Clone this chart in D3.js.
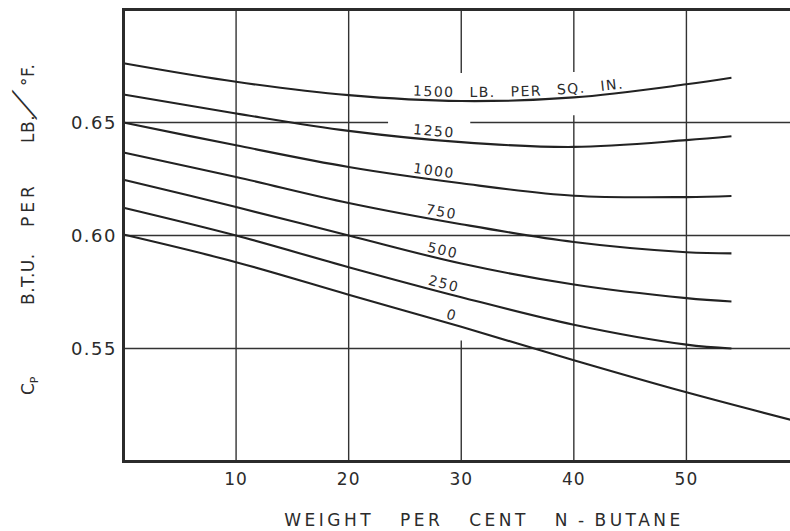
<!DOCTYPE html>
<html>
<head>
<meta charset="utf-8">
<script src="https://cdn.jsdelivr.net/npm/d3@7"></script>
<style>
    body { margin: 0; background: #fff; }
    text { font-family: "DejaVu Sans", sans-serif; fill: #2b2b2b; }
</style>
</head>
<body>
<div id="svgContainer"></div>
<script>
var width = 790,
    height = 531;

// weight per cent n-butane at which each curve was read
var butane = [0, 10, 20, 30, 40, 50, 54];
var butaneZero = [0, 10, 20, 30, 40, 50, 60];

// Cp, B.T.U. per lb. per deg F, one array per pressure (lb. per sq. in.)
var cp1500 = [0.6762, 0.668, 0.6621, 0.6595, 0.6611, 0.6669, 0.6698];
var cp1250 = [0.6624, 0.654, 0.6463, 0.6413, 0.6392, 0.6422, 0.6439];
var cp1000 = [0.650, 0.6399, 0.6303, 0.6231, 0.6176, 0.617, 0.6175];
var cp750 = [0.6367, 0.6259, 0.6144, 0.605, 0.5971, 0.5926, 0.5921];
var cp500 = [0.6247, 0.6126, 0.600, 0.5876, 0.5783, 0.5723, 0.5708];
var cp250 = [0.6123, 0.600, 0.586, 0.5727, 0.5605, 0.5517, 0.550];
var cp0 = [0.6004, 0.5882, 0.5738, 0.5596, 0.5448, 0.5306, 0.5175];

var curveLabels = ["1500 LB. PER SQ. IN.", "1250", "1000", "750", "500", "250", "0"];
var labelAt = [25.7, 25.7, 25.7, 26.8, 26.9, 27.0, 28.6];

var xTicks = [10, 20, 30, 40, 50];
var yTicks = [0.55, 0.60, 0.65];
var yTickLabels = ["0.55", "0.60", "0.65"];

// gaps left in the grid round the lettering
var xGridGaps = [{ at: 30, from: 0.5535, to: 0.6719 }, { at: 40, from: 0.6532, to: 0.6723 }];
var yGridGaps = [{ at: 0.65, from: 23.5, to: 30.8 }];

var series = [
    { xs: butane, ys: cp1500 },
    { xs: butane, ys: cp1250 },
    { xs: butane, ys: cp1000 },
    { xs: butane, ys: cp750 },
    { xs: butane, ys: cp500 },
    { xs: butane, ys: cp250 },
    { xs: butaneZero, ys: cp0 }
].map((s, i) => ({ points: s.xs.map((v, j) => [v, s.ys[j]]), label: curveLabels[i], at: labelAt[i] }));

var x = d3.scaleLinear().domain([0, 60]).range([123.5, 799]);
var y = d3.scaleLinear().domain([0.50, 0.70]).range([461.5, 9.5]);

var svg = d3.select("#svgContainer").append("svg")
    .attr("width", width)
    .attr("height", height)
    .attr("viewBox", "0 0 " + width + " " + height)
    .style("display", "block");

svg.append("rect").attr("width", width).attr("height", height).attr("fill", "#fff");

svg.append("clipPath").attr("id", "plotClip")
    .append("rect")
    .attr("x", x(0)).attr("y", y(0.70))
    .attr("width", x(60) - x(0)).attr("height", y(0.50) - y(0.70));

// split a span into pieces, leaving out the gaps
splitSpan = (lo, hi, gaps) => {
    var pieces = [], start = lo;
    gaps.slice().sort((a, b) => a.from - b.from).forEach(g => {
        pieces.push([start, g.from]);
        start = g.to;
    });
    pieces.push([start, hi]);
    return pieces;
};

var grid = svg.append("g")
    .attr("stroke", "#333")
    .attr("stroke-width", 1.4);

xTicks.forEach(t => {
    splitSpan(0.50, 0.70, xGridGaps.filter(g => g.at === t)).forEach(p => {
        grid.append("line")
            .attr("x1", x(t)).attr("x2", x(t))
            .attr("y1", y(p[0])).attr("y2", y(p[1]));
    });
});

yTicks.forEach(t => {
    splitSpan(0, 60, yGridGaps.filter(g => g.at === t)).forEach(p => {
        grid.append("line")
            .attr("x1", x(p[0])).attr("x2", x(p[1]))
            .attr("y1", y(t)).attr("y2", y(t));
    });
});

var line = d3.line()
    .x(d => x(d[0]))
    .y(d => y(d[1]))
    .curve(d3.curveCatmullRom.alpha(0.5));

svg.append("g")
    .attr("clip-path", "url(#plotClip)")
    .attr("fill", "none")
    .attr("stroke", "#222")
    .attr("stroke-width", 2.1)
    .selectAll("path")
    .data(series)
    .enter().append("path")
    .attr("d", d => line(d.points));

// label paths lie a little above each curve
var labelLine = d3.line()
    .x(d => x(d[0]))
    .y(d => y(d[1]) - 4)
    .curve(d3.curveCatmullRom.alpha(0.5));

var guides = svg.append("g").attr("fill", "none").attr("stroke", "none");

series.forEach((s, i) => {
    var path = guides.append("path")
        .attr("id", "guide" + i)
        .attr("d", labelLine(s.points));
    var node = path.node(),
        target = x(s.at),
        lo = 0,
        hi = node.getTotalLength();
    for (var k = 0; k < 40; k++) {
        var mid = (lo + hi) / 2;
        if (node.getPointAtLength(mid).x < target) lo = mid; else hi = mid;
    }
    svg.append("text")
        .attr("font-size", 14)
        .attr("letter-spacing", 1.5)
        .attr("word-spacing", 9)
        .append("textPath")
        .attr("href", "#guide" + i)
        .attr("startOffset", lo)
        .text(s.label);
});

// frame
svg.append("rect")
    .attr("x", x(0)).attr("y", y(0.70))
    .attr("width", x(60) - x(0)).attr("height", y(0.50) - y(0.70))
    .attr("fill", "none")
    .attr("stroke", "#2b2b2b")
    .attr("stroke-width", 3);

// tick labels
svg.append("g").selectAll("text")
    .data(yTicks)
    .enter().append("text")
    .attr("x", 117)
    .attr("y", d => y(d))
    .attr("dy", "0.36em")
    .attr("text-anchor", "end")
    .attr("font-size", 18)
    .attr("letter-spacing", 1.5)
    .text((d, i) => yTickLabels[i]);

svg.append("g").selectAll("text")
    .data(xTicks)
    .enter().append("text")
    .attr("x", d => x(d))
    .attr("y", 485)
    .attr("text-anchor", "middle")
    .attr("font-size", 17)
    .attr("letter-spacing", 1)
    .text(d => d);

svg.append("text")
    .attr("x", 484)
    .attr("y", 526)
    .attr("text-anchor", "middle")
    .attr("font-size", 17)
    .attr("letter-spacing", 3.5)
    .attr("word-spacing", 17)
    .text("WEIGHT PER CENT N\u2009-\u2009BUTANE");

// y axis title, read from the bottom up
var yTitle = svg.append("g")
    .attr("transform", "translate(34,0) rotate(-90)")
    .attr("font-size", 17);

var cp = yTitle.append("text").attr("x", -395).attr("y", 0);
cp.append("tspan").text("C");
cp.append("tspan").attr("font-size", 11).attr("dy", 4).text("P");

yTitle.append("text").attr("x", -305).attr("y", 0).attr("letter-spacing", 0.5).text("B.T.U.");
yTitle.append("text").attr("x", -227).attr("y", 0).attr("letter-spacing", 4).text("PER");
yTitle.append("text").attr("x", -143).attr("y", 0).attr("letter-spacing", 0.5).text("LB.");
yTitle.append("text")
    .attr("transform", "translate(-118,0) skewX(-40)")
    .attr("font-size", 30)
    .text("/");
yTitle.append("text").attr("x", -86).attr("y", 0).attr("letter-spacing", 0.5).text("\u00b0F.");
</script>
</body>
</html>
